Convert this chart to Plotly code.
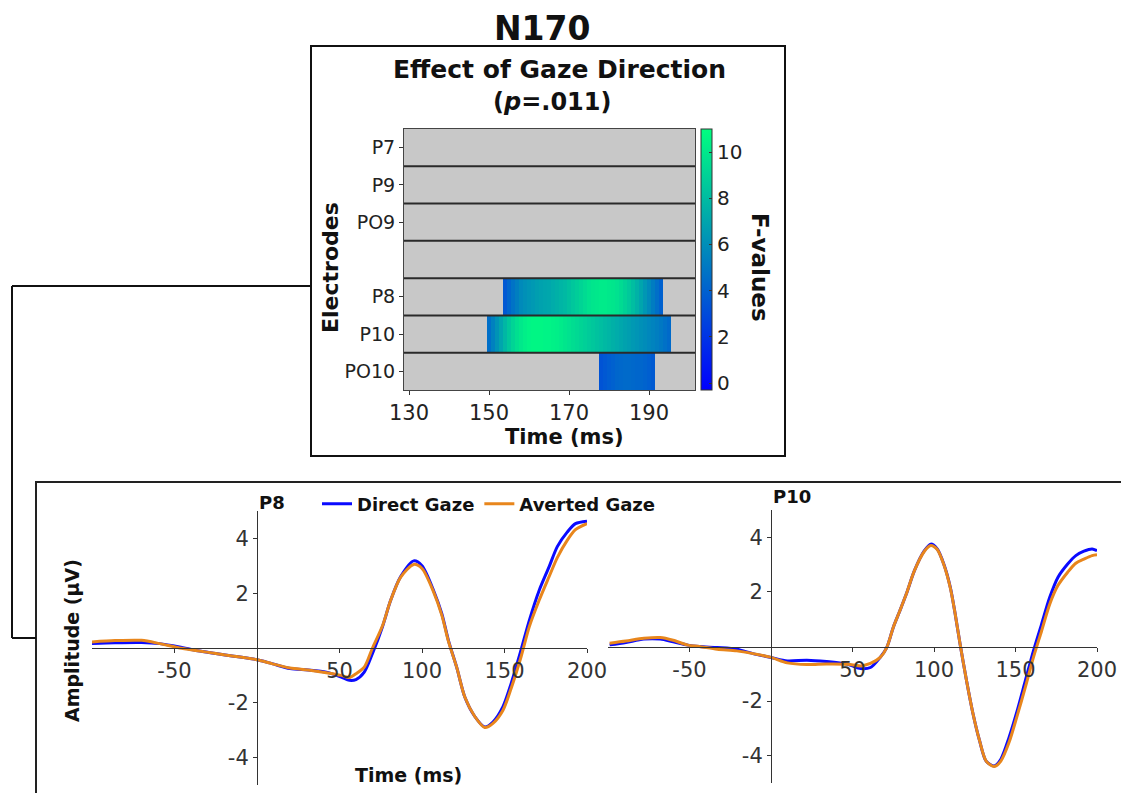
import plotly.graph_objects as go

W, H = 1129, 793
OFF = 8  # page body margin compensation

# ---------------- Heatmap data (F-values) ----------------
HM_TIMES = list(range(129, 202))
ELECTRODE_LABELS = ["P7", "P9", "PO9", "", "P8", "P10", "PO10"]
P8_START = 154
P8_F = [3.6, 4.2, 4.8, 5.3, 5.8, 6.1, 6.3, 6.5, 6.7, 6.9, 7.0, 7.1, 7.3, 7.5, 7.7,
        7.9, 8.2, 8.5, 8.8, 9.1, 9.4, 9.7, 9.9, 10.0, 10.1, 10.1, 10.0, 9.9, 9.7,
        9.4, 9.0, 8.6, 8.1, 7.6, 7.0, 6.4, 5.8, 5.2, 4.6, 4.0]
P10_START = 150
P10_F = [4.6, 5.4, 6.2, 7.0, 7.8, 8.5, 9.1, 9.6, 10.0, 10.3, 10.5, 10.6, 10.6, 10.6,
         10.5, 10.5, 10.4, 10.3, 10.1, 9.9, 9.7, 9.5, 9.3, 9.1, 8.9, 8.7, 8.5, 8.3,
         8.1, 7.9, 7.7, 7.5, 7.3, 7.1, 6.9, 6.7, 6.5, 6.3, 6.1, 5.9, 5.7, 5.5, 5.3,
         5.0, 4.7, 4.4]
PO10_START = 178
PO10_F = [3.4, 3.6, 3.8, 4.0, 4.2, 4.3, 4.4, 4.4, 4.3, 4.2, 4.2, 4.1, 3.9, 3.7]

# ---------------- ERP data ----------------
P8_TIME = [-100, -86, -70, -59, -47, -36, -25, -14, 0, 9, 20, 31, 42, 51, 56, 60, 65, 70,
           76, 81, 87, 95, 100, 107, 112, 116, 121, 126, 132, 138, 143, 149, 154, 160,
           165, 171, 177, 182, 188, 193, 200]
P8_DIRECT = [0.16, 0.19, 0.20, 0.16, 0.04, -0.10, -0.20, -0.30, -0.43, -0.57, -0.75, -0.80,
             -0.88, -1.06, -1.18, -1.15, -0.88, -0.20, 0.77, 1.74, 2.60, 3.18, 3.00, 2.10,
             1.25, 0.28, -0.70, -1.80, -2.50, -2.88, -2.70, -2.15, -1.30, -0.08, 1.00,
             2.10, 2.96, 3.70, 4.23, 4.54, 4.63]
P8_AVERTED = [0.22, 0.27, 0.28, 0.16, 0.00, -0.10, -0.20, -0.30, -0.43, -0.57, -0.73, -0.80,
              -0.90, -1.00, -1.08, -0.94, -0.70, 0.00, 0.80, 1.74, 2.58, 3.05, 2.90, 2.05,
              1.20, 0.25, -0.70, -1.80, -2.50, -2.90, -2.75, -2.28, -1.48, -0.33, 0.77,
              1.74, 2.60, 3.30, 3.93, 4.32, 4.54]

P10_TIME = [-99, -89, -78, -68, -60, -51, -44, -33, -21, -11, 0, 10, 22, 34, 47, 55, 61, 67,
            71, 75, 79, 83, 88, 94, 98, 102, 106, 110, 113, 116, 120, 124, 128, 132, 137,
            141, 146, 151, 156, 161, 166, 171, 176, 182, 187, 192, 197, 200]
P10_DIRECT = [0.06, 0.15, 0.27, 0.27, 0.17, 0.05, 0.00, -0.04, -0.10, -0.26, -0.40, -0.53,
              -0.50, -0.55, -0.65, -0.81, -0.77, -0.40, -0.04, 0.70, 1.30, 1.92, 2.78, 3.50,
              3.75, 3.57, 3.02, 2.17, 1.19, 0.09, -1.26, -2.48, -3.46, -4.20, -4.38, -4.13,
              -3.34, -2.36, -1.26, -0.16, 0.82, 1.80, 2.53, 3.02, 3.33, 3.49, 3.57, 3.51]
P10_AVERTED = [0.12, 0.20, 0.30, 0.33, 0.23, 0.05, 0.00, -0.10, -0.16, -0.26, -0.40, -0.60,
               -0.66, -0.64, -0.65, -0.71, -0.62, -0.40, -0.04, 0.70, 1.30, 1.92, 2.78, 3.48,
               3.70, 3.55, 3.00, 2.15, 1.19, 0.09, -1.26, -2.48, -3.46, -4.20, -4.40, -4.20,
               -3.52, -2.54, -1.50, -0.40, 0.57, 1.55, 2.23, 2.72, 3.05, 3.20, 3.33, 3.36]

X_TICKS = [-50, 50, 100, 150, 200]
X_TICK_TEXT = ["-50", "50", "100", "150", "200"]
Y_TICKS = [-4, -2, 2, 4]
Y_TICK_TEXT = ["-4", "-2", "2", "4"]
HM_X_TICKS = [130, 150, 170, 190]
CB_TICKS = [0, 2, 4, 6, 8, 10]

BLUE = "#0a0aff"
ORANGE = "#e8861c"
FONT = "DejaVu Sans"


def px(x):
    return (x - OFF) / W


def py(y):
    return 1 - (y - OFF) / H


def row_from(start, vals):
    r = [None] * len(HM_TIMES)
    for i, v in enumerate(vals):
        idx = HM_TIMES.index(start + i)
        r[idx] = v
    return r


empty = [None] * len(HM_TIMES)
Z = [empty, empty, empty, empty,
     row_from(P8_START, P8_F), row_from(P10_START, P10_F), row_from(PO10_START, PO10_F)]

fig = go.Figure()

fig.add_trace(go.Heatmap(
    x=HM_TIMES, y=list(range(7)), z=Z, xaxis="x", yaxis="y",
    colorscale=[[0, "rgb(0,0,255)"], [1, "rgb(0,255,128)"]],
    zmin=-0.3, zmax=11, hoverongaps=False, showscale=True,
    colorbar=dict(x=px(701), xanchor="left", y=py(390), yanchor="bottom",
                  len=261 / H, lenmode="fraction", thickness=11,
                  outlinewidth=1, outlinecolor="#333",
                  tickvals=CB_TICKS, ticks="inside", ticklen=3, tickcolor="#333",
                  tickfont=dict(family=FONT, size=20, color="#222"),
                  xpad=0, ypad=0),
))

for (t, d, a, xa, ya, show) in [(P8_TIME, P8_DIRECT, P8_AVERTED, "x2", "y2", True),
                                 (P10_TIME, P10_DIRECT, P10_AVERTED, "x3", "y3", False)]:
    fig.add_trace(go.Scatter(x=t, y=d, xaxis=xa, yaxis=ya, mode="lines",
                             line=dict(color=BLUE, width=3, shape="spline", smoothing=0.8),
                             name="<b>Direct Gaze</b>", showlegend=show))
    fig.add_trace(go.Scatter(x=t, y=a, xaxis=xa, yaxis=ya, mode="lines",
                             line=dict(color=ORANGE, width=3, shape="spline", smoothing=0.8),
                             name="<b>Averted Gaze</b>", showlegend=show))

tickfont = dict(family=FONT, size=21, color="#333")

L_X0, L_X1, L_Y0, L_Y1 = 92, 587, 511, 785
R_X0, R_X1, R_Y0, R_Y1 = 608, 1097, 510, 783


def erp_axes(x0, x1, y0, y1):
    xa = dict(domain=[px(x0), px(x1)], range=[-100, 200], anchor="free",
              position=(py(y0) + py(y1)) / 2,
              tickvals=X_TICKS, ticktext=X_TICK_TEXT, ticks="outside", ticklen=4,
              tickcolor="#333", showline=True, linecolor="#333", linewidth=1,
              showgrid=False, zeroline=False, tickfont=tickfont)
    ya = dict(domain=[py(y1), py(y0)], range=[-5, 5], anchor="free",
              position=px(x0) + (px(x1) - px(x0)) / 3,
              tickvals=Y_TICKS, ticktext=Y_TICK_TEXT, ticks="outside", ticklen=4,
              tickcolor="#333", showline=True, linecolor="#333", linewidth=1,
              showgrid=False, zeroline=False, tickfont=tickfont)
    return xa, ya


xa2, ya2 = erp_axes(L_X0, L_X1, L_Y0, L_Y1)
xa3, ya3 = erp_axes(R_X0, R_X1, R_Y0, R_Y1)

fig.update_layout(
    width=W, height=H, margin=dict(l=0, r=0, t=0, b=0, pad=0, autoexpand=False),
    paper_bgcolor="white", plot_bgcolor="rgba(0,0,0,0)",
    showlegend=True,
    legend=dict(orientation="h", x=px(317), y=py(504), xanchor="left", yanchor="middle",
                font=dict(family=FONT, size=18, color="#111"),
                itemwidth=30, tracegroupgap=0, bgcolor="rgba(0,0,0,0)"),
    xaxis=dict(domain=[px(404), px(695)], range=[128.75, 201.5], anchor="y",
               tickvals=HM_X_TICKS, ticks="outside", ticklen=4, tickcolor="#333",
               showline=True, linecolor="#444", linewidth=1, mirror=True,
               showgrid=False, zeroline=False,
               tickfont=dict(family=FONT, size=21, color="#222")),
    yaxis=dict(domain=[py(390), py(129)], range=[6.5, -0.5], anchor="x",
               tickvals=[0, 1, 2, 4, 5, 6], ticktext=["P7", "P9", "PO9", "P8", "P10", "PO10"],
               ticks="outside", ticklen=4, tickcolor="#333",
               showline=True, linecolor="#444", linewidth=1, mirror=True,
               showgrid=False, zeroline=False,
               tickfont=dict(family=FONT, size=19, color="#222")),
    xaxis2=xa2, yaxis2=ya2, xaxis3=xa3, yaxis3=ya3,
)

shapes = []
shapes.append(dict(type="rect", xref="x domain", yref="y domain", x0=0, x1=1, y0=0, y1=1,
                   fillcolor="#c8c8c8", line=dict(width=0), layer="below"))
for b in [0.5, 1.5, 2.5, 3.5, 4.5, 5.5]:
    shapes.append(dict(type="line", xref="x domain", yref="y", x0=0, x1=1, y0=b, y1=b,
                       line=dict(color="#2a2a2a", width=2)))
shapes.append(dict(type="rect", xref="paper", yref="paper", x0=px(311), x1=px(785),
                   y0=py(456), y1=py(46), line=dict(color="#111", width=2)))
shapes.append(dict(type="rect", xref="paper", yref="paper", x0=px(36), x1=px(1150),
                   y0=py(815), y1=py(482), line=dict(color="#222", width=2)))
for (x0, y0, x1, y1) in [(311, 286, 12, 286), (12, 286, 12, 638), (12, 638, 36, 638)]:
    shapes.append(dict(type="line", xref="paper", yref="paper", x0=px(x0), y0=py(y0),
                       x1=px(x1), y1=py(y1), line=dict(color="#111", width=2)))
fig.update_layout(shapes=shapes)

ann = []


def A(text, x, y, size, angle=0, color="#111"):
    ann.append(dict(text=text, x=px(x), y=py(y), xref="paper", yref="paper",
                    showarrow=False, xanchor="center", yanchor="middle", textangle=angle,
                    font=dict(family=FONT, size=size, color=color)))


A("<b>N170</b>", 542, 28, 33)
A("<b>Effect of Gaze Direction</b>", 559, 70, 25)
A("<b>(<i>p</i>=.011)</b>", 552, 102, 24)
A("<b>Electrodes</b>", 331, 268, 22, angle=-90)
A("<b>Time (ms)</b>", 564, 437, 21)
A("<b>F-values</b>", 760, 267, 23, angle=90)
A("<b>Amplitude (µV)</b>", 72, 641, 19, angle=-90)
A("<b>Time (ms)</b>", 408, 775, 19)
A("<b>P8</b>", 272, 503, 18)
A("<b>P10</b>", 792, 497, 18)
fig.update_layout(annotations=ann)

fig.write_html("out.html")
